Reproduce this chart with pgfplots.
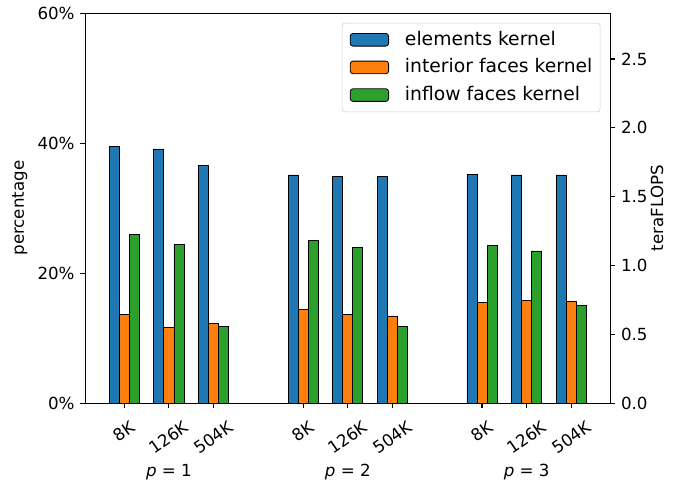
\documentclass[border=0pt]{standalone}
\usepackage{fontspec}
\setmainfont{DejaVu Sans}
\usepackage{graphicx}
\usepackage{pgfplots}
\pgfplotsset{compat=1.18}
\definecolor{tabblue}{HTML}{1F77B4}
\definecolor{taborange}{HTML}{FF7F0E}
\definecolor{tabgreen}{HTML}{2CA02C}
\pgfplotsset{
  myleg/.style={legend image code/.code={\draw[##1,draw=black,line width=0.6pt] (0pt,-4.55pt) rectangle (27.6pt,4.55pt);}},
}
\newcommand{\rl}[1]{\rotatebox{35}{#1}}
\begin{document}
\fontsize{12}{14.4}\selectfont
\begin{tikzpicture}
\begin{axis}[
  name=main,
  scale only axis, width=378pt, height=280.8pt,
  xmin=-0.87, xmax=10.87, ymin=0, ymax=60,
  ybar, bar width=0.224,
  xtick={0,1,2,4,5,6,8,9,10},
  xticklabels={\rl{8K},\rl{126K},\rl{504K},\rl{8K},\rl{126K},\rl{504K},\rl{8K},\rl{126K},\rl{504K}},
  ytick={0,20,40,60}, yticklabels={0\%,20\%,40\%,60\%},
  xtick pos=lower, ytick pos=left,
  tick align=outside, major tick length=3.5pt,
  every tick/.style={black, line width=0.8pt},
  axis line style={line width=0.8pt},
  tick label style={font=\fontsize{12}{14.4}\selectfont},
  xticklabel style={anchor=north, inner sep=0pt, yshift=-8.5pt},
  ylabel={percentage},
  ylabel style={at={(axis description cs:-0.125,0.5)}, anchor=center, font=\fontsize{12}{14.4}\selectfont},
  clip=false,
  legend cell align=left,
  legend style={at={(rel axis cs:1,1)}, anchor=north east, xshift=-7.2pt, yshift=-7pt,
    draw=black!20, rounded corners=2pt, fill=white, font=\fontsize{13.5}{16}\selectfont,
    inner xsep=5.5pt, inner ysep=5.5pt, row sep=6.8pt,
    nodes={inner sep=0pt, text height=10.5pt, text depth=2.6pt},
    /tikz/every odd column/.append style={column sep=11.5pt}},
]
\addplot[fill=tabblue, draw=black, line width=0.6pt, bar shift=-0.224, myleg] coordinates {
  (0,39.5) (1,39.1) (2,36.5) (4,35.1) (5,34.9) (6,34.8) (8,35.2) (9,35.1) (10,35.1)};
\addplot[fill=taborange, draw=black, line width=0.6pt, bar shift=0, myleg] coordinates {
  (0,13.7) (1,11.7) (2,12.3) (4,14.4) (5,13.6) (6,13.4) (8,15.5) (9,15.8) (10,15.7)};
\addplot[fill=tabgreen, draw=black, line width=0.6pt, bar shift=0.224, myleg] coordinates {
  (0,25.9) (1,24.4) (2,11.8) (4,25.0) (5,23.9) (6,11.8) (8,24.2) (9,23.4) (10,15.0)};
\legend{elements kernel, interior faces kernel, inflow faces kernel}
\node[anchor=base, yshift=-52.6pt, font=\fontsize{12}{14.4}\selectfont] at (axis cs:1,0) {\textit{p} = 1};
\node[anchor=base, yshift=-52.6pt, font=\fontsize{12}{14.4}\selectfont] at (axis cs:5,0) {\textit{p} = 2};
\node[anchor=base, yshift=-52.6pt, font=\fontsize{12}{14.4}\selectfont] at (axis cs:9,0) {\textit{p} = 3};
\end{axis}
\begin{axis}[
  scale only axis, width=378pt, height=280.8pt,
  at={(main.south west)}, anchor=south west,
  xmin=-0.87, xmax=10.87, ymin=0, ymax=2.834,
  axis x line=none, axis y line*=right,
  ytick={0,0.5,1,1.5,2,2.5}, yticklabels={0.0,0.5,1.0,1.5,2.0,2.5},
  tick align=outside, major tick length=3.5pt,
  every tick/.style={black, line width=0.8pt},
  axis line style={line width=0.8pt},
  tick label style={font=\fontsize{12}{14.4}\selectfont},
  ylabel={teraFLOPS},
  ylabel style={at={(axis description cs:1.089,0.5)}, anchor=center, font=\fontsize{12}{14.4}\selectfont},
]
\addplot[draw=none] coordinates {(0,0)};
\end{axis}
\pgfresetboundingbox
\path[use as bounding box] ([shift={(-61.4pt,-57.6pt)}]main.south west) rectangle ([shift={(423.1pt,290.2pt)}]main.south west);
\end{tikzpicture}
\end{document}
